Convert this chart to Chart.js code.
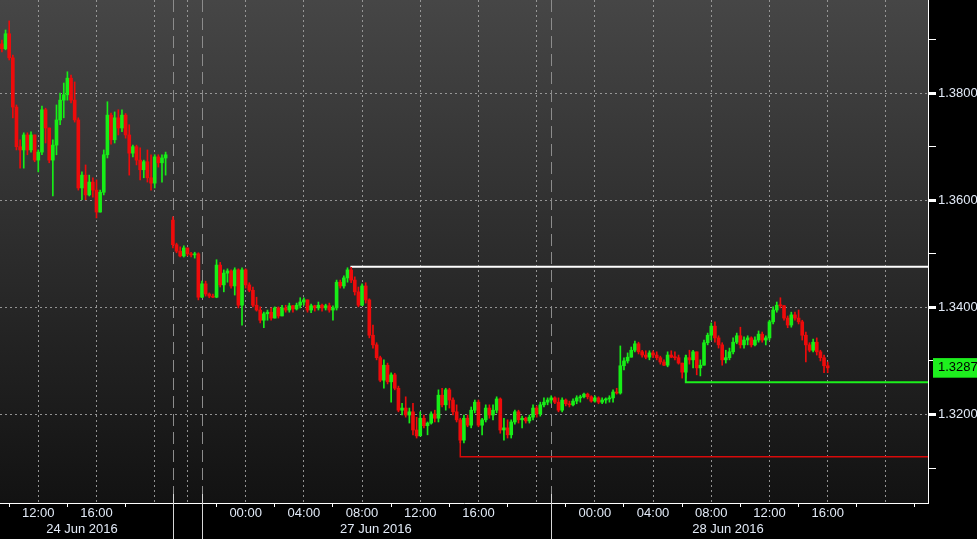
<!DOCTYPE html>
<html>
<head>
<meta charset="utf-8">
<script src="https://cdn.jsdelivr.net/npm/chart.js@4.4.1/dist/chart.umd.min.js"></script>
<style>
  html, body { margin: 0; background: #000; }
  canvas { display: block; }
</style>
</head>
<body>
<canvas id="c" width="977" height="539"></canvas>
<script>
// 15 min candles. x is "chart hours": Friday clock time, then the weekend is squeezed out
// so Sunday 19:00 sits at 21.25 and Mon 00:00 at 26.25
const FRI_START = 9.5;
const SUN_START = 21.25;
const STEP = 0.25;

// --- Fri 24 Jun ---
const friOpen = [1.3892,1.3883,1.3911,1.3866,1.3774,1.3700,1.3694,1.3722,1.3694,1.3722,
  1.3675,1.3690,1.3769,1.3735,1.3675,1.3703,1.3750,1.3787,1.3797,1.3828,
  1.3787,1.3750,1.3623,1.3647,1.3610,1.3634,1.3619,1.3578,1.3615,1.3685,
  1.3759,1.3713,1.3754,1.3735,1.3759,1.3722,1.3688,1.3700,1.3675,1.3657,
  1.3672,1.3642,1.3632,1.3681,1.3670,1.3679];
const friHigh = [1.3899,1.3918,1.3935,1.3871,1.3778,1.3713,1.3726,1.3726,1.3728,1.3722,
  1.3694,1.3776,1.3772,1.3735,1.3713,1.3778,1.3800,1.3819,1.3840,1.3834,
  1.3821,1.3754,1.3653,1.3666,1.3647,1.3642,1.3638,1.3619,1.3694,1.3784,
  1.3763,1.3765,1.3769,1.3769,1.3762,1.3741,1.3703,1.3703,1.3698,1.3675,
  1.3694,1.3685,1.3685,1.3685,1.3685,1.3690];
const friLow = [1.3877,1.3881,1.3862,1.3754,1.3694,1.3660,1.3660,1.3685,1.3690,1.3672,
  1.3653,1.3685,1.3707,1.3670,1.3608,1.3685,1.3741,1.3754,1.3787,1.3782,
  1.3746,1.3619,1.3601,1.3601,1.3608,1.3606,1.3567,1.3578,1.3610,1.3679,
  1.3705,1.3707,1.3722,1.3728,1.3716,1.3647,1.3681,1.3666,1.3638,1.3642,
  1.3634,1.3619,1.3623,1.3662,1.3634,1.3647];
const friClose = [1.3883,1.3911,1.3866,1.3774,1.3700,1.3694,1.3722,1.3694,1.3722,1.3675,
  1.3690,1.3769,1.3735,1.3675,1.3703,1.3750,1.3787,1.3797,1.3828,1.3787,
  1.3750,1.3623,1.3647,1.3610,1.3634,1.3619,1.3578,1.3615,1.3685,1.3759,
  1.3713,1.3754,1.3735,1.3759,1.3722,1.3688,1.3700,1.3675,1.3657,1.3672,
  1.3642,1.3632,1.3681,1.3670,1.3679,1.3685];

// --- Sun 26 Jun evening to Tue 28 Jun ---
const sunOpen = [1.3563,1.3517,1.3505,1.3496,1.3511,1.3500,1.3498,1.3500,1.3419,1.3444,
  1.3425,1.3421,1.3419,1.3479,1.3442,1.3464,1.3468,1.3440,1.3470,1.3404,
  1.3470,1.3442,1.3432,1.3404,1.3395,1.3376,1.3388,1.3391,1.3380,1.3399,
  1.3384,1.3399,1.3395,1.3403,1.3397,1.3404,1.3410,1.3414,1.3395,1.3403,
  1.3399,1.3404,1.3399,1.3403,1.3395,1.3399,1.3447,1.3440,1.3455,1.3470,
  1.3451,1.3429,1.3404,1.3440,1.3414,1.3348,1.3330,1.3306,1.3264,1.3292,
  1.3261,1.3274,1.3249,1.3208,1.3212,1.3199,1.3205,1.3171,1.3160,1.3193,
  1.3179,1.3184,1.3201,1.3193,1.3236,1.3218,1.3246,1.3227,1.3205,1.3190,
  1.3152,1.3193,1.3180,1.3208,1.3223,1.3180,1.3190,1.3212,1.3199,1.3208,
  1.3229,1.3171,1.3175,1.3162,1.3186,1.3205,1.3190,1.3193,1.3188,1.3195,
  1.3212,1.3201,1.3218,1.3223,1.3227,1.3231,1.3223,1.3208,1.3227,1.3220,
  1.3218,1.3225,1.3231,1.3233,1.3238,1.3233,1.3225,1.3231,1.3223,1.3227,
  1.3229,1.3231,1.3242,1.3240,1.3291,1.3300,1.3307,1.3320,1.3332,1.3317,
  1.3311,1.3307,1.3315,1.3311,1.3306,1.3298,1.3292,1.3311,1.3307,1.3306,
  1.3296,1.3279,1.3306,1.3302,1.3317,1.3287,1.3292,1.3334,1.3348,1.3365,
  1.3343,1.3330,1.3302,1.3306,1.3317,1.3335,1.3347,1.3330,1.3339,1.3343,
  1.3330,1.3339,1.3350,1.3339,1.3343,1.3373,1.3395,1.3404,1.3403,1.3380,
  1.3367,1.3386,1.3380,1.3373,1.3348,1.3330,1.3320,1.3335,1.3317,1.3306,
  1.3291];
const sunHigh = [1.3569,1.3520,1.3513,1.3515,1.3511,1.3503,1.3503,1.3502,1.3449,1.3449,
  1.3427,1.3425,1.3489,1.3484,1.3470,1.3472,1.3470,1.3474,1.3472,1.3474,
  1.3472,1.3446,1.3438,1.3419,1.3401,1.3391,1.3395,1.3399,1.3401,1.3401,
  1.3404,1.3404,1.3408,1.3404,1.3408,1.3418,1.3418,1.3414,1.3406,1.3404,
  1.3410,1.3406,1.3406,1.3408,1.3403,1.3451,1.3451,1.3459,1.3474,1.3475,
  1.3457,1.3438,1.3444,1.3446,1.3416,1.3367,1.3334,1.3309,1.3302,1.3296,
  1.3278,1.3277,1.3253,1.3221,1.3233,1.3212,1.3221,1.3195,1.3205,1.3199,
  1.3186,1.3205,1.3208,1.3246,1.3249,1.3249,1.3249,1.3231,1.3218,1.3193,
  1.3199,1.3199,1.3214,1.3227,1.3227,1.3193,1.3218,1.3218,1.3218,1.3233,
  1.3231,1.3193,1.3190,1.3190,1.3208,1.3208,1.3197,1.3195,1.3199,1.3218,
  1.3216,1.3223,1.3231,1.3231,1.3235,1.3233,1.3231,1.3231,1.3229,1.3225,
  1.3229,1.3235,1.3236,1.3240,1.3240,1.3235,1.3235,1.3233,1.3231,1.3231,
  1.3235,1.3246,1.3249,1.3328,1.3306,1.3315,1.3326,1.3337,1.3335,1.3320,
  1.3319,1.3319,1.3319,1.3317,1.3309,1.3302,1.3317,1.3319,1.3317,1.3311,
  1.3296,1.3311,1.3320,1.3320,1.3317,1.3302,1.3339,1.3352,1.3371,1.3373,
  1.3347,1.3334,1.3320,1.3324,1.3343,1.3352,1.3363,1.3345,1.3347,1.3345,
  1.3345,1.3356,1.3354,1.3347,1.3376,1.3401,1.3410,1.3418,1.3404,1.3384,
  1.3391,1.3391,1.3395,1.3376,1.3354,1.3334,1.3341,1.3343,1.3320,1.3311,
  1.3298];
const sunLow = [1.3511,1.3502,1.3494,1.3494,1.3496,1.3494,1.3492,1.3414,1.3418,1.3421,
  1.3418,1.3418,1.3418,1.3438,1.3429,1.3447,1.3436,1.3423,1.3399,1.3367,
  1.3436,1.3429,1.3401,1.3393,1.3371,1.3362,1.3376,1.3376,1.3380,1.3380,
  1.3384,1.3391,1.3391,1.3391,1.3395,1.3399,1.3404,1.3391,1.3390,1.3393,
  1.3395,1.3393,1.3395,1.3391,1.3376,1.3395,1.3436,1.3436,1.3447,1.3446,
  1.3423,1.3401,1.3403,1.3408,1.3343,1.3324,1.3302,1.3261,1.3249,1.3257,
  1.3223,1.3246,1.3205,1.3199,1.3195,1.3184,1.3162,1.3156,1.3160,1.3175,
  1.3162,1.3182,1.3186,1.3186,1.3214,1.3208,1.3212,1.3199,1.3186,1.3147,
  1.3147,1.3177,1.3175,1.3203,1.3177,1.3162,1.3186,1.3193,1.3190,1.3203,
  1.3165,1.3152,1.3156,1.3156,1.3182,1.3184,1.3175,1.3184,1.3184,1.3190,
  1.3195,1.3197,1.3214,1.3218,1.3221,1.3220,1.3205,1.3205,1.3216,1.3214,
  1.3216,1.3220,1.3223,1.3231,1.3229,1.3223,1.3223,1.3220,1.3220,1.3221,
  1.3223,1.3223,1.3238,1.3238,1.3283,1.3296,1.3307,1.3317,1.3313,1.3307,
  1.3304,1.3302,1.3306,1.3302,1.3294,1.3291,1.3289,1.3306,1.3302,1.3294,
  1.3268,1.3268,1.3294,1.3287,1.3274,1.3272,1.3292,1.3330,1.3339,1.3335,
  1.3324,1.3292,1.3296,1.3302,1.3313,1.3332,1.3324,1.3324,1.3330,1.3326,
  1.3328,1.3335,1.3335,1.3330,1.3339,1.3369,1.3391,1.3399,1.3376,1.3362,
  1.3363,1.3376,1.3369,1.3339,1.3298,1.3317,1.3317,1.3311,1.3300,1.3278,
  1.3278];
const sunClose = [1.3517,1.3505,1.3496,1.3511,1.3500,1.3498,1.3500,1.3419,1.3444,1.3425,
  1.3421,1.3419,1.3479,1.3442,1.3464,1.3468,1.3440,1.3470,1.3404,1.3470,
  1.3442,1.3432,1.3404,1.3395,1.3376,1.3388,1.3391,1.3380,1.3399,1.3384,
  1.3399,1.3395,1.3403,1.3397,1.3404,1.3410,1.3414,1.3395,1.3403,1.3399,
  1.3404,1.3399,1.3403,1.3395,1.3399,1.3447,1.3440,1.3455,1.3470,1.3451,
  1.3429,1.3404,1.3440,1.3414,1.3348,1.3330,1.3306,1.3264,1.3292,1.3261,
  1.3274,1.3249,1.3208,1.3212,1.3199,1.3205,1.3171,1.3160,1.3193,1.3179,
  1.3184,1.3201,1.3193,1.3236,1.3218,1.3246,1.3227,1.3205,1.3190,1.3152,
  1.3193,1.3180,1.3208,1.3223,1.3180,1.3190,1.3212,1.3199,1.3208,1.3229,
  1.3171,1.3175,1.3162,1.3186,1.3205,1.3190,1.3193,1.3188,1.3195,1.3212,
  1.3201,1.3218,1.3223,1.3227,1.3231,1.3223,1.3208,1.3227,1.3220,1.3218,
  1.3225,1.3231,1.3233,1.3238,1.3233,1.3225,1.3231,1.3223,1.3227,1.3229,
  1.3231,1.3242,1.3240,1.3291,1.3300,1.3307,1.3320,1.3332,1.3317,1.3311,
  1.3307,1.3315,1.3311,1.3306,1.3298,1.3292,1.3311,1.3307,1.3306,1.3296,
  1.3279,1.3306,1.3302,1.3317,1.3287,1.3292,1.3334,1.3348,1.3365,1.3343,
  1.3330,1.3302,1.3306,1.3317,1.3335,1.3347,1.3330,1.3339,1.3343,1.3330,
  1.3339,1.3350,1.3339,1.3343,1.3373,1.3395,1.3404,1.3403,1.3380,1.3367,
  1.3386,1.3380,1.3373,1.3348,1.3330,1.3320,1.3335,1.3317,1.3306,1.3291,
  1.3287];

// support / resistance lines: start hour, price where it leaves the candle, level
const levelStart  = [33.45, 56.5, 41.0];
const levelAnchor = [1.3476, 1.3311, 1.3150];
const levelValue  = [1.3476, 1.3260, 1.3121];
const levelColor  = ['#ffffff', '#1cf01c', '#d80a0a'];
const levelWidth  = [2, 2, 1.5];

// axes
const X_MIN = 9.368, X_MAX = 73.144;
const Y_MIN = 1.30347, Y_MAX = 1.3974;
const tickHours = [10,12,14,16,18,20, 22.25,24.25,
  26.25,28.25,30.25,32.25,34.25,36.25,38.25,40.25,42.25,44.25,46.25,48.25,
  50.25,52.25,54.25,56.25,58.25,60.25,62.25,64.25,66.25,68.25,70.25,72.25];
const tickClock = [10,12,14,16,18,20, 20,22,
  0,2,4,6,8,10,12,14,16,18,20,22,
  0,2,4,6,8,10,12,14,16,18,20,22];
const datePos  = [15.0, 35.2, 59.4];
const dateText = ['24 Jun 2016', '27 Jun 2016', '28 Jun 2016'];
const sessionBreaks = [21.25, 23.25, 47.25];
const priceTicks = [1.31, 1.32, 1.33, 1.34, 1.35, 1.36, 1.37, 1.38, 1.39];
const labelledPrices = [1.32, 1.34, 1.36, 1.38];

const GREEN = '#17ee17', RED = '#ee0b0b';
const LABEL = '#e2eaf7', DOT = 'rgba(160,160,160,0.9)';
Chart.defaults.font.family = '"Liberation Sans", Arial, sans-serif';

// build candles
const toCandles = (start, o, h, l, c) => o.map((v, i) => ({ x: start + i * STEP, o: v, h: h[i], l: l[i], c: c[i] }));
const candles = [
  ...toCandles(FRI_START, friOpen, friHigh, friLow, friClose),
  ...toCandles(SUN_START, sunOpen, sunHigh, sunLow, sunClose)
];
const isUp = candles.map(k => k.c >= k.o);
const candleColor = ctx => isUp[ctx.dataIndex] ? GREEN : RED;
const lastPrice = sunClose[sunClose.length - 1];

// tick tables
const xTickList = [
  ...tickHours.map((v, i) => ({ value: v, kind: 'time', clock: tickClock[i] })),
  ...datePos.map((v, i) => ({ value: v, kind: 'date', text: dateText[i] }))
].sort((a, b) => a.value - b.value);
const yTickList = [
  ...priceTicks.map(v => ({ value: v, kind: labelledPrices.includes(v) ? 'major' : 'minor' })),
  { value: lastPrice, kind: 'last' }
].sort((a, b) => a.value - b.value);

const pad2 = n => String(n).padStart(2, '0');
function xLabel(i) {
  const t = xTickList[i];
  if (!t) return '';
  if (t.kind === 'date') return ['', t.text];
  if (t.clock % 4 === 0 && t.clock !== 20) return pad2(t.clock) + ':00';
  return '';
}
const xt = ctx => xTickList[ctx.index] || {};
const yt = ctx => yTickList[ctx.index] || {};

// background + session separators
const frame = {
  id: 'frame',
  beforeDraw(chart) {
    const { ctx, chartArea: a } = chart;
    ctx.save();
    ctx.fillStyle = '#000';
    ctx.fillRect(0, 0, chart.width, chart.height);
    const g = ctx.createLinearGradient(0, a.top, 0, a.bottom);
    g.addColorStop(0, '#464646');
    g.addColorStop(1, '#121212');
    ctx.fillStyle = g;
    ctx.fillRect(a.left, a.top, a.right - a.left, a.bottom - a.top);
    ctx.restore();
  },
  beforeDatasetsDraw(chart) {
    const { ctx, chartArea: a, scales: { x } } = chart;
    ctx.save();
    ctx.lineWidth = 1;
    sessionBreaks.forEach(v => {
      const px = Math.round(x.getPixelForValue(v)) + 0.5;
      ctx.strokeStyle = '#8c8c8c';
      ctx.setLineDash([12, 6]);
      ctx.beginPath(); ctx.moveTo(px, a.top); ctx.lineTo(px, a.bottom - 9); ctx.stroke();
      ctx.strokeStyle = '#d6d6d6';
      ctx.setLineDash([]);
      ctx.beginPath(); ctx.moveTo(px, a.bottom - 9); ctx.lineTo(px, chart.height); ctx.stroke();
    });
    ctx.restore();
  }
};

const levelSets = levelValue.map((lv, i) => ({
  type: 'line',
  data: [{ x: levelStart[i], y: levelAnchor[i] }, { x: levelStart[i], y: lv }, { x: X_MAX, y: lv }],
  borderColor: levelColor[i],
  borderWidth: levelWidth[i],
  pointRadius: 0,
  tension: 0,
  order: 3
}));

new Chart(document.getElementById('c'), {
  type: 'bar',
  data: {
    datasets: [
      {
        data: candles.map(k => ({ x: k.x, y: [k.l, k.h] })),
        backgroundColor: candleColor,
        barThickness: 1, grouped: false, minBarLength: 1, order: 2
      },
      {
        data: candles.map(k => ({ x: k.x, y: [Math.min(k.o, k.c), Math.max(k.o, k.c)] })),
        backgroundColor: candleColor,
        barThickness: 3, grouped: false, minBarLength: 1, order: 1
      },
      ...levelSets
    ]
  },
  options: {
    responsive: false,
    animation: false,
    events: [],
    layout: { padding: 0 },
    plugins: { legend: { display: false }, tooltip: { enabled: false } },
    scales: {
      x: {
        type: 'linear', position: 'bottom', min: X_MIN, max: X_MAX, offset: false,
        afterBuildTicks: s => { s.ticks = xTickList.map(t => ({ value: t.value })); },
        afterFit: s => { s.height = 36; s.paddingLeft = 0; s.paddingRight = 0; },
        ticks: {
          autoSkip: false, maxRotation: 0, minRotation: 0, padding: -2,
          color: LABEL, font: { size: 13, lineHeight: 1.25 },
          callback: (v, i) => xLabel(i)
        },
        grid: {
          offset: false, lineWidth: 1, tickLength: 4, tickWidth: 1, tickBorderDash: [],
          color: ctx => { const t = xt(ctx); return t.kind === 'time' && t.clock % 4 === 0 ? DOT : 'transparent'; },
          tickColor: ctx => { const t = xt(ctx); return t.kind === 'time' && t.clock % 4 !== 0 ? '#ffffff' : 'transparent'; }
        },
        border: { display: true, color: '#ffffff', width: 1, dash: [2, 3] }
      },
      y: {
        type: 'linear', position: 'right', min: Y_MIN, max: Y_MAX,
        afterBuildTicks: s => { s.ticks = yTickList.map(t => ({ value: t.value })); },
        afterFit: s => { s.width = 49; s.paddingTop = 0; s.paddingBottom = 0; },
        ticks: {
          padding: 2,
          font: { size: 13 },
          color: ctx => yt(ctx).kind === 'last' ? '#000000' : LABEL,
          showLabelBackdrop: ctx => yt(ctx).kind === 'last',
          backdropColor: '#1ef01e',
          backdropPadding: { top: 2, bottom: 2, left: 5, right: 8 },
          callback: (v, i) => {
            const t = yTickList[i];
            if (!t) return '';
            if (t.kind === 'last' || t.kind === 'major') return t.value.toFixed(4);
            return '';
          }
        },
        grid: {
          lineWidth: 1, tickLength: 8, tickBorderDash: [],
          color: ctx => yt(ctx).kind === 'major' ? DOT : 'transparent',
          tickColor: ctx => yt(ctx).kind === 'last' ? 'transparent' : '#ffffff',
          tickWidth: ctx => yt(ctx).kind === 'major' ? 3 : 1
        },
        border: { display: true, color: '#ffffff', width: 1, dash: [2, 3] }
      }
    }
  },
  plugins: [frame]
});
</script>
</body>
</html>
